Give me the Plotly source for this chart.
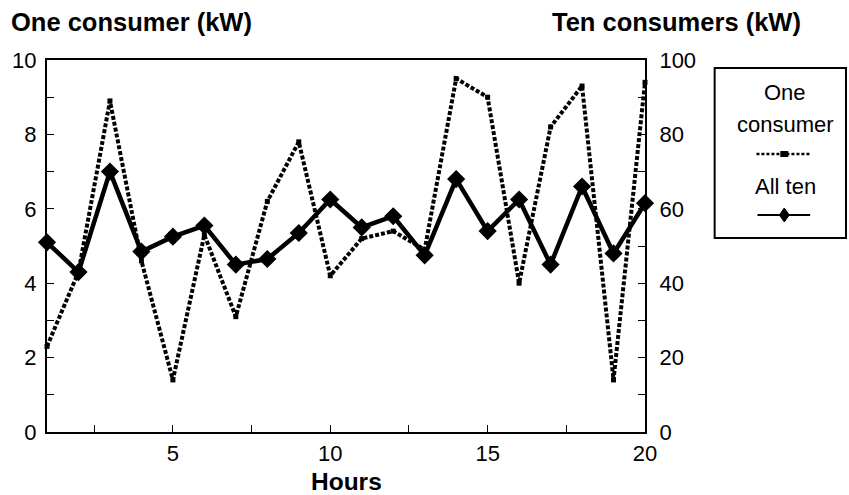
import plotly.graph_objects as go

hours = list(range(1, 21))
one_consumer = [2.3, 4.3, 8.9, 4.6, 1.4, 5.3, 3.1, 6.2, 7.8, 4.2,
                5.2, 5.4, 4.9, 9.5, 9.0, 4.0, 8.2, 9.3, 1.4, 9.4]
all_ten = [51, 43, 70, 48.5, 52.5, 55.5, 45, 46.5, 53.5, 62.5,
           55, 58, 47.5, 68, 54, 62.5, 45, 66, 48, 61.5]

left_title = "One consumer (kW)"
right_title = "Ten consumers (kW)"
x_title = "Hours"
legend_labels = ["One", "consumer", "All ten"]

W, H = 849, 495
L, R, T, B = 44, 645, 60, 432
FONT = "Liberation Sans, Arial, Helvetica, sans-serif"


def px(x):
    return (x - L) / (R - L)


def py(y):
    return (B - y) / (B - T)


fig = go.Figure()
fig.add_trace(go.Scatter(
    x=hours, y=one_consumer, mode="lines+markers", name="One consumer",
    line=dict(color="black", width=4, dash="4px,2px"),
    marker=dict(symbol="square", size=5, color="black"),
    cliponaxis=False, showlegend=False))
fig.add_trace(go.Scatter(
    x=hours, y=all_ten, mode="lines+markers", name="All ten", yaxis="y2",
    line=dict(color="black", width=4.5),
    marker=dict(symbol="diamond", size=14, color="black"),
    cliponaxis=False, showlegend=False))

tickfont = dict(family=FONT, size=22, color="black")
common = dict(showgrid=False, zeroline=False, showline=True, linecolor="black",
              linewidth=2, ticks="inside", ticklen=7, tickwidth=1.2,
              tickcolor="black", tickfont=tickfont)

fig.update_layout(
    width=W, height=H,
    margin=dict(l=L, r=W - R, t=T, b=H - B, pad=0),
    paper_bgcolor="white", plot_bgcolor="white",
    font=dict(family=FONT, color="black"),
    xaxis=dict(range=[1, 20], tick0=0, dtick=5, mirror=True,
               minor=dict(dtick=2.5, ticks="inside", ticklen=7, tickcolor="black", tickwidth=1.2),
               ticklabelstandoff=1, **common),
    yaxis=dict(range=[0, 10], tick0=0, dtick=2,
               minor=dict(dtick=1, ticks="inside", ticklen=7, tickcolor="black", tickwidth=1.2),
               ticklabelstandoff=4, **common),
    yaxis2=dict(range=[0, 100], tick0=0, dtick=20, overlaying="y", side="right",
                minor=dict(dtick=10, ticks="inside", ticklen=7, tickcolor="black", tickwidth=1.2),
                ticklabelstandoff=8, **common),
)

title_font = dict(family=FONT, size=25.5, color="black")
fig.add_annotation(text="<b>%s</b>" % left_title, xref="paper", yref="paper",
                   x=px(6), y=py(22), xanchor="left", yanchor="middle",
                   showarrow=False, font=title_font)
fig.add_annotation(text="<b>%s</b>" % right_title, xref="paper", yref="paper",
                   x=px(804), y=py(22), xanchor="right", yanchor="middle",
                   showarrow=False, font=title_font)
fig.add_annotation(text="<b>%s</b>" % x_title, xref="paper", yref="paper",
                   x=px(345), y=py(482), xanchor="center", yanchor="middle",
                   showarrow=False, font=dict(family=FONT, size=24.5, color="black"))

# custom legend box
leg_font = dict(family=FONT, size=22, color="black")
fig.add_shape(type="rect", xref="paper", yref="paper",
              x0=px(715), x1=px(847), y0=py(68), y1=py(238),
              line=dict(color="black", width=2), fillcolor="white")
for label, ycen in zip(legend_labels, [92, 125, 186]):
    fig.add_annotation(text=label, xref="paper", yref="paper",
                       x=px(786), y=py(ycen), xanchor="center", yanchor="middle",
                       showarrow=False, font=leg_font)
fig.add_shape(type="line", xref="paper", yref="paper",
              x0=px(757), x1=px(812), y0=py(154), y1=py(154),
              line=dict(color="black", width=2.5, dash="3px,2px"))
fig.add_shape(type="rect", xref="paper", yref="paper",
              x0=px(781), x1=px(789), y0=py(151), y1=py(157),
              line=dict(color="black", width=0), fillcolor="black")
fig.add_shape(type="line", xref="paper", yref="paper",
              x0=px(758), x1=px(811), y0=py(215), y1=py(215),
              line=dict(color="black", width=2))
cx, cy = 785, 215
path = "M %f,%f L %f,%f L %f,%f L %f,%f Z" % (
    px(cx), py(cy - 7), px(cx + 5), py(cy), px(cx), py(cy + 7), px(cx - 5), py(cy))
fig.add_shape(type="path", xref="paper", yref="paper", path=path,
              line=dict(color="black", width=1), fillcolor="black")

fig.write_html("out.html")
